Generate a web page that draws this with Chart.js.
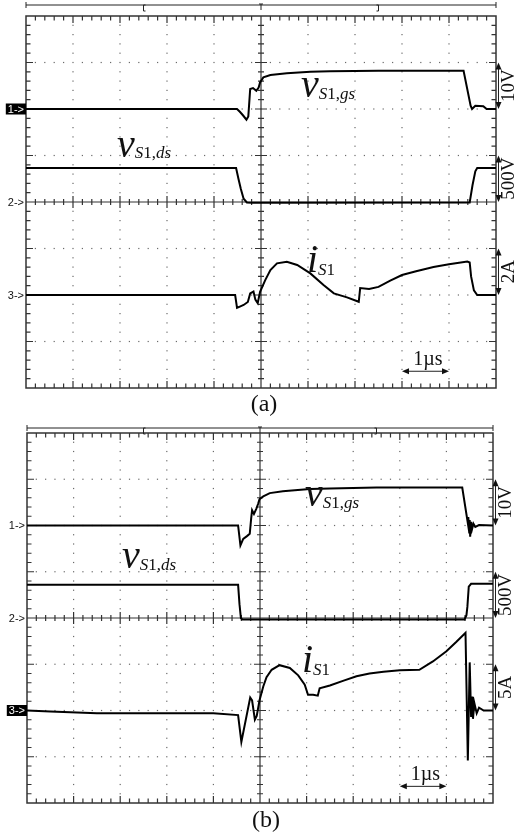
<!DOCTYPE html>
<html><head><meta charset="utf-8">
<script src="https://cdn.jsdelivr.net/npm/chart.js@4/dist/chart.umd.min.js"></script>
<style>
html,body{margin:0;padding:0;background:#fff;width:523px;height:835px;overflow:hidden}
canvas{position:absolute;left:0}
#ca{top:0}#cb{top:415px}
.pre{position:absolute;left:-999px;top:0;font-family:"Liberation Serif"}
</style></head><body>
<span class="pre">a</span><span class="pre" style="font-style:italic">v</span><span class="pre" style="font-family:'Liberation Sans'">1</span>
<canvas id="ca" width="523" height="420"></canvas>
<canvas id="cb" width="523" height="420"></canvas>
<script>
// ---------- DATA (time in µs, values in physical units) ----------
// Panel (a)
const tGsA = [0, 4.49, 4.55, 4.62, 4.69, 4.73, 4.77, 4.83, 4.9, 4.95, 4.98, 5.05, 5.2, 5.55, 6.05, 6.47, 7.5, 9.31, 9.46, 9.49, 9.56, 9.73, 9.8, 10];
const vGsA = [0, 0, -0.6, -1.4, -2.3, -1.6, 4.3, 4.5, 3.9, 4.6, 5.7, 6.8, 7.3, 7.7, 8.0, 8.1, 8.2, 8.2, 0.7, 0, 0.7, 0.6, 0, 0];
const tDsA = [0, 4.47, 4.52, 4.57, 4.63, 4.70, 4.8, 9.44, 9.5, 9.56, 9.6, 10];
const vDsA = [365, 365, 250, 143, 36, -5, -8, -5, 180, 330, 365, 365];
const tIA = [0, 4.45, 4.49, 4.55, 4.63, 4.72, 4.77, 4.84, 4.88, 4.93, 4.98, 5.09, 5.2, 5.34, 5.55, 5.77, 6.05, 6.33, 6.55, 6.83, 7.08, 7.11, 7.3, 7.5, 7.75, 8.0, 8.3, 8.67, 9.0, 9.39, 9.44, 9.47, 9.53, 9.6, 10];
const iA  = [0, 0, -0.55, -0.5, -0.43, -0.3, 0.07, 0.15, -0.2, -0.35, 0.14, 0.64, 1.07, 1.36, 1.43, 1.29, 0.93, 0.43, 0.07, -0.1, -0.29, 0.3, 0.26, 0.35, 0.62, 0.86, 1.02, 1.2, 1.32, 1.44, 1.4, 0.8, 0.2, 0, 0];
// Panel (b)
const tGsB = [0, 4.53, 4.58, 4.64, 4.72, 4.78, 4.81, 4.83, 4.87, 4.92, 4.96, 4.99, 5.07, 5.21, 5.49, 6.07, 6.5, 7.5, 9.34, 9.46, 9.47, 9.49, 9.5, 9.51, 9.53, 9.55, 9.58, 9.62, 9.7, 10];
const vGsB = [0, 0, -4.3, -2.9, -2.3, -1.8, 1.5, 3.3, 2.5, 3.6, 4.7, 5.7, 6.3, 7.0, 7.4, 7.9, 8.0, 8.2, 8.2, 0.5, 1.8, -1.5, 1.2, -2.4, 0.8, -0.8, 0.4, -0.3, 0.1, 0];
const tDsB = [0, 4.53, 4.56, 4.59, 4.62, 9.39, 9.43, 9.45, 9.48, 9.53, 10];
const vDsB = [360, 360, 150, 0, -15, -15, 30, 120, 340, 370, 370];
const tIB = [0, 0.5, 1.5, 4.0, 4.53, 4.60, 4.79, 4.83, 4.89, 4.93, 4.99, 5.07, 5.14, 5.25, 5.42, 5.64, 5.82, 5.96, 6.03, 6.14, 6.24, 6.28, 6.5, 6.78, 7.07, 7.35, 7.65, 8.0, 8.42, 8.71, 9.0, 9.21, 9.39, 9.41, 9.46, 9.5, 9.53, 9.55, 9.57, 9.6, 9.65, 9.7, 9.8, 10];
const iB  = [0, -0.1, -0.3, -0.3, -0.5, -3.4, 1.4, 1.1, -1.0, -0.6, 1.1, 2.6, 3.6, 4.4, 4.9, 4.6, 3.8, 2.8, 1.7, 1.7, 1.6, 2.4, 2.7, 3.2, 3.7, 4.0, 4.2, 4.35, 4.4, 5.3, 6.4, 7.4, 8.3, 8.4, -5.4, 5.2, -0.7, 1.5, -0.9, 0.8, -0.3, 0.3, 0, 0];
// volts / amps per division, and channel reference levels (division from bottom)
const perDivA = [10, 500, 2];
const perDivB = [10, 500, 5];
const channelLevels = [6, 4, 2];
const scaleLabelsA = ['10V', '500V', '2A'];
const scaleLabelsB = ['10V', '500V', '5A'];
const markerLabels = ['1->', '2->', '3->'];
const timeLabel = '1\u00B5s';

function pts(ts, vs, perDiv, level) { return ts.map((t, i) => ({ x: t, y: level + vs[i] / perDiv })); }

const SERIF = '"Liberation Serif","Times New Roman",Times,serif';
const SANS = '"Liberation Sans",Arial,sans-serif';

function arrowHead(ctx, x, y, dx, dy) {
  const L = 7, W = 3;
  const px = -dy, py = dx;
  ctx.beginPath();
  ctx.moveTo(x, y);
  ctx.lineTo(x - dx * L + px * W, y - dy * L + py * W);
  ctx.lineTo(x - dx * L - px * W, y - dy * L - py * W);
  ctx.closePath(); ctx.fill();
}

function drawLabel(ctx, x, yb, main, parts, subDy) {
  ctx.font = 'italic 40px ' + SERIF;
  ctx.fillText(main, x, yb);
  let cx = x + ctx.measureText(main).width;
  parts.forEach(([s, it]) => {
    ctx.font = (it ? 'italic ' : '') + '17px ' + SERIF;
    ctx.fillText(s, cx, yb + subDy);
    cx += ctx.measureText(s).width;
  });
}

const scopePlugin = {
  id: 'scope',
  beforeDatasetsDraw(chart, args, o) {
    const { ctx, chartArea: a, scales: { x, y } } = chart;
    ctx.save();
    ctx.fillStyle = '#6a6a6a';
    for (let i = 1; i < 10; i++) {
      if (i === 5) continue;
      const px = x.getPixelForValue(i);
      for (let j = 1; j < 40; j++) {
        if (j % 5 === 0) continue;
        const py = y.getPixelForValue(j * 0.2);
        ctx.fillRect(px - 0.6, py - 0.6, 1.2, 1.2);
      }
    }
    for (let j = 1; j < 8; j++) {
      if (j === 4) continue;
      const py = y.getPixelForValue(j);
      for (let i = 1; i < 50; i++) {
        const px = x.getPixelForValue(i * 0.2);
        ctx.fillRect(px - 0.6, py - 0.6, 1.2, 1.2);
      }
    }
    ctx.strokeStyle = '#333';
    ctx.lineWidth = 1.2;
    const cx = x.getPixelForValue(5), cy = y.getPixelForValue(4);
    ctx.beginPath();
    ctx.moveTo(cx, a.top); ctx.lineTo(cx, a.bottom);
    ctx.moveTo(a.left, cy); ctx.lineTo(a.right, cy);
    for (let j = 1; j < 40; j++) {
      const py = y.getPixelForValue(j * 0.2), h = j % 5 === 0 ? 6 : 3;
      ctx.moveTo(cx - h, py); ctx.lineTo(cx + h, py);
    }
    for (let i = 1; i < 50; i++) {
      const px = x.getPixelForValue(i * 0.2), h = i % 5 === 0 ? 6 : 3;
      ctx.moveTo(px, cy - h); ctx.lineTo(px, cy + h);
    }
    for (let i = 1; i < 50; i++) {
      const px = x.getPixelForValue(i * 0.2), h = i % 5 === 0 ? 7 : 4.5;
      ctx.moveTo(px, a.top); ctx.lineTo(px, a.top + h);
      ctx.moveTo(px, a.bottom); ctx.lineTo(px, a.bottom - h);
    }
    for (let j = 1; j < 40; j++) {
      const py = y.getPixelForValue(j * 0.2), h = j % 5 === 0 ? 7 : 4.5;
      ctx.moveTo(a.left, py); ctx.lineTo(a.left + h, py);
      ctx.moveTo(a.right, py); ctx.lineTo(a.right - h, py);
    }
    ctx.stroke();
    ctx.lineWidth = 1.5;
    ctx.strokeRect(a.left, a.top, a.right - a.left, a.bottom - a.top);
    ctx.restore();
  },
  afterDraw(chart, args, o) {
    const { ctx, chartArea: a, scales: { x, y } } = chart;
    ctx.save();
    ctx.fillStyle = '#111'; ctx.strokeStyle = '#222';
    const by = o.bracketY;
    ctx.lineWidth = 1;
    ctx.beginPath();
    ctx.moveTo(a.left, by); ctx.lineTo(a.right, by);
    ctx.moveTo(a.left, by - 3); ctx.lineTo(a.left, by + 3);
    ctx.moveTo(a.right, by - 3); ctx.lineTo(a.right, by + 3);
    const bl = x.getPixelForValue(2.5), br = x.getPixelForValue(7.5), bc = x.getPixelForValue(5);
    ctx.moveTo(bl + 2, by); ctx.lineTo(bl, by); ctx.lineTo(bl, by + 6); ctx.lineTo(bl + 2, by + 6);
    ctx.moveTo(br - 2, by); ctx.lineTo(br, by); ctx.lineTo(br, by + 6); ctx.lineTo(br - 2, by + 6);
    ctx.moveTo(bc - 2, by - 1); ctx.lineTo(bc + 2, by - 1);
    ctx.moveTo(bc, by - 1); ctx.lineTo(bc, by + 5);
    ctx.stroke();

    ctx.font = '11px ' + SANS;
    ctx.textBaseline = 'middle'; ctx.textAlign = 'right';
    channelLevels.forEach((lv, k) => {
      const py = y.getPixelForValue(lv);
      const t = markerLabels[k];
      if (o.inverted === k) {
        const w = ctx.measureText(t).width + 3;
        ctx.fillStyle = '#000';
        ctx.fillRect(o.markerX - w, py - 5.5, w + 1, 11);
        ctx.fillStyle = '#fff';
        ctx.fillText(t, o.markerX - 1, py + 0.5);
        ctx.fillStyle = '#111';
      } else {
        ctx.fillText(t, o.markerX - 1, py + 0.5);
      }
    });

    ctx.lineWidth = 1;
    channelLevels.forEach((lv, k) => {
      const y0 = y.getPixelForValue(lv), y1 = y.getPixelForValue(lv + 1);
      const ax = a.right + 2.5;
      ctx.beginPath(); ctx.moveTo(ax, y0 - 4); ctx.lineTo(ax, y1 + 4); ctx.stroke();
      arrowHead(ctx, ax, y0, 0, 1); arrowHead(ctx, ax, y1, 0, -1);
      ctx.save();
      ctx.translate(a.right + 18, (y0 + y1) / 2);
      ctx.rotate(-Math.PI / 2);
      ctx.font = '19px ' + SERIF;
      ctx.textAlign = 'center'; ctx.textBaseline = 'alphabetic';
      ctx.fillText(o.scaleLabels[k], 0, 0);
      ctx.restore();
    });

    const tx0 = x.getPixelForValue(8.0), tx1 = x.getPixelForValue(9.0), ty = y.getPixelForValue(0.36);
    ctx.beginPath(); ctx.moveTo(tx0 + 4, ty); ctx.lineTo(tx1 - 4, ty); ctx.stroke();
    arrowHead(ctx, tx0, ty, -1, 0); arrowHead(ctx, tx1, ty, 1, 0);
    ctx.font = '20px ' + SERIF; ctx.textAlign = 'center'; ctx.textBaseline = 'alphabetic';
    ctx.fillText(timeLabel, x.getPixelForValue(8.55), ty - 6);

    ctx.textAlign = 'left';
    o.labels.forEach(L => drawLabel(ctx, L.x, L.y, L.main, L.parts, L.dy));

    ctx.font = '24px ' + SERIF; ctx.textAlign = 'center';
    ctx.fillText(o.caption, o.captionX, o.captionY);
    ctx.restore();
  }
};
Chart.register(scopePlugin);

function makeChart(id, padding, traces, opts) {
  return new Chart(document.getElementById(id), {
    type: 'scatter',
    data: {
      datasets: traces.map(d => ({
        data: d, showLine: true, borderColor: '#000', borderWidth: 2,
        pointRadius: 0, tension: 0, fill: false
      }))
    },
    options: {
      responsive: false, animation: false, devicePixelRatio: 1,
      layout: { padding },
      scales: {
        x: { type: 'linear', min: 0, max: 10, display: false },
        y: { type: 'linear', min: 0, max: 8, display: false }
      },
      plugins: { legend: { display: false }, tooltip: { enabled: false }, scope: opts }
    }
  });
}

function build() {
  makeChart('ca', { left: 26, right: 27, top: 16, bottom: 32 }, [
    pts(tGsA, vGsA, perDivA[0], channelLevels[0]),
    pts(tDsA, vDsA, perDivA[1], channelLevels[1]),
    pts(tIA, iA, perDivA[2], channelLevels[2])
  ], {
    bracketY: 5, markerX: 25, inverted: 0, scaleLabels: scaleLabelsA,
    caption: '(a)', captionX: 264, captionY: 411,
    labels: [
      { x: 301, y: 97, main: 'v', parts: [['S', true], ['1,', false], ['gs', true]], dy: 2 },
      { x: 117, y: 157, main: 'v', parts: [['S', true], ['1,', false], ['ds', true]], dy: 1 },
      { x: 307, y: 272, main: 'i', parts: [['S', true], ['1', false]], dy: 3 }
    ]
  });
  makeChart('cb', { left: 27, right: 30, top: 18, bottom: 32 }, [
    pts(tGsB, vGsB, perDivB[0], channelLevels[0]),
    pts(tDsB, vDsB, perDivB[1], channelLevels[1]),
    pts(tIB, iB, perDivB[2], channelLevels[2])
  ], {
    bracketY: 13, markerX: 26, inverted: 2, scaleLabels: scaleLabelsB,
    caption: '(b)', captionX: 266, captionY: 412,
    labels: [
      { x: 305, y: 91, main: 'v', parts: [['S', true], ['1,', false], ['gs', true]], dy: 2 },
      { x: 122, y: 153, main: 'v', parts: [['S', true], ['1,', false], ['ds', true]], dy: 2 },
      { x: 302, y: 257, main: 'i', parts: [['S', true], ['1', false]], dy: 3 }
    ]
  });
}
const fontSpecs = ['40px "Liberation Serif"', 'italic 40px "Liberation Serif"', '11px "Liberation Sans"'];
Promise.all(fontSpecs.map(f => document.fonts.load(f))).then(build, build);
</script>
</body></html>
